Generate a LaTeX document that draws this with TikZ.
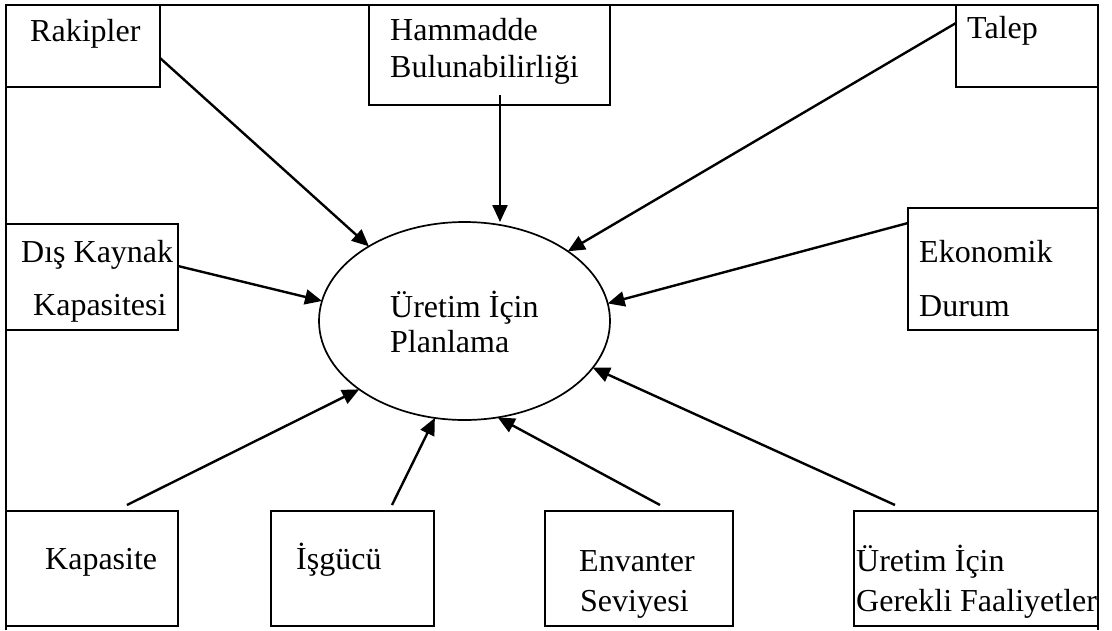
\documentclass[tikz,border=0pt]{standalone}
\usepackage{fontspec}
\setmainfont{Liberation Serif}
\usetikzlibrary{arrows.meta,shapes.geometric}
\begin{document}
\begin{tikzpicture}[x=1pt,y=-1pt,
  box/.style={draw,line width=2.2pt,inner sep=0pt,outer sep=0pt,anchor=north west},
  txt/.style={font=\fontsize{32}{37}\selectfont,inner sep=0pt,anchor=base west},
  arr/.style={line width=2.4pt,-{Triangle[length=17pt,width=15pt]}},
  frame/.style={line width=2.2pt}]
\useasboundingbox (0,0) rectangle (1112,630);
\fill[white] (0,0) rectangle (1112,630);
% outer frame
\draw[frame] (6,630) -- (6,5) -- (1098,5) -- (1098,630);
% central ellipse
\node[draw,ellipse,line width=1.7pt,minimum width=291pt,minimum height=198pt,inner sep=0pt,outer sep=0pt] (e) at (464.5,321) {};
\node[txt] (e1) at (390,317) {Üretim İçin};
\node[txt] (e2) at (390,352) {Planlama};
% boxes
\node[box,minimum width=154pt,minimum height=82pt] (rak) at (6,5) {};
\node[txt] (rakt) at (30,41) {Rakipler};
\node[box,minimum width=241pt,minimum height=100pt] (ham) at (369,5) {};
\node[txt] (hamt1) at (390,40) {Hammadde};
\node[txt] (hamt2) at (390,77) {Bulunabilirliği};
\node[box,minimum width=142pt,minimum height=82pt] (tal) at (956,5) {};
\node[txt] (talt) at (967,38) {Talep};
\node[box,minimum width=172pt,minimum height=106pt] (dis) at (6,224) {};
\node[txt] (dist1) at (21,262) {Dış Kaynak};
\node[txt] (dist2) at (33,315) {Kapasitesi};
\node[box,minimum width=190pt,minimum height=122pt] (eko) at (908,208) {};
\node[txt] (ekot1) at (919,262) {Ekonomik};
\node[txt] (ekot2) at (919,316) {Durum};
\node[box,minimum width=172pt,minimum height=115pt] (kap) at (6,511) {};
\node[txt] (kapt) at (45,569) {Kapasite};
\node[box,minimum width=163pt,minimum height=115pt] (isg) at (271,511) {};
\node[txt] (isgt) at (296,569) {İşgücü};
\node[box,minimum width=188pt,minimum height=115pt] (env) at (545,511) {};
\node[txt] (envt1) at (579,571) {Envanter};
\node[txt] (envt2) at (580,611) {Seviyesi};
\node[box,minimum width=244pt,minimum height=115pt] (ger) at (854,511) {};
\node[txt] (gert1) at (856,571) {Üretim İçin};
\node[txt] (gert2) at (856,611) {Gerekli Faaliyetler};
% connector start points
\coordinate (rs) at (160,58);
\coordinate (hs) at (500,95);
\coordinate (ts) at (956,23);
\coordinate (ds) at (178,266);
\coordinate (es) at (908,223);
\coordinate (ks) at (127,505);
\coordinate (gs) at (392,505);
\coordinate (vs) at (660,505);
\coordinate (fs) at (895,505);
% connectors
\draw[arr] (rs) -- (e.142.5);
\draw[arr] (hs) -- (hs |- e.north);
\draw[arr] (ts) -- (e.34.7);
\draw[arr] (ds) -- (e.172.6);
\draw[arr] (es) -- (e.7.8);
\draw[arr] (ks) -- (e.213.1);
\draw[arr] (gs) -- (e.253);
\draw[arr] (vs) -- (e.289.7);
\draw[arr] (fs) -- (e.340.5);
\end{tikzpicture}
\end{document}
